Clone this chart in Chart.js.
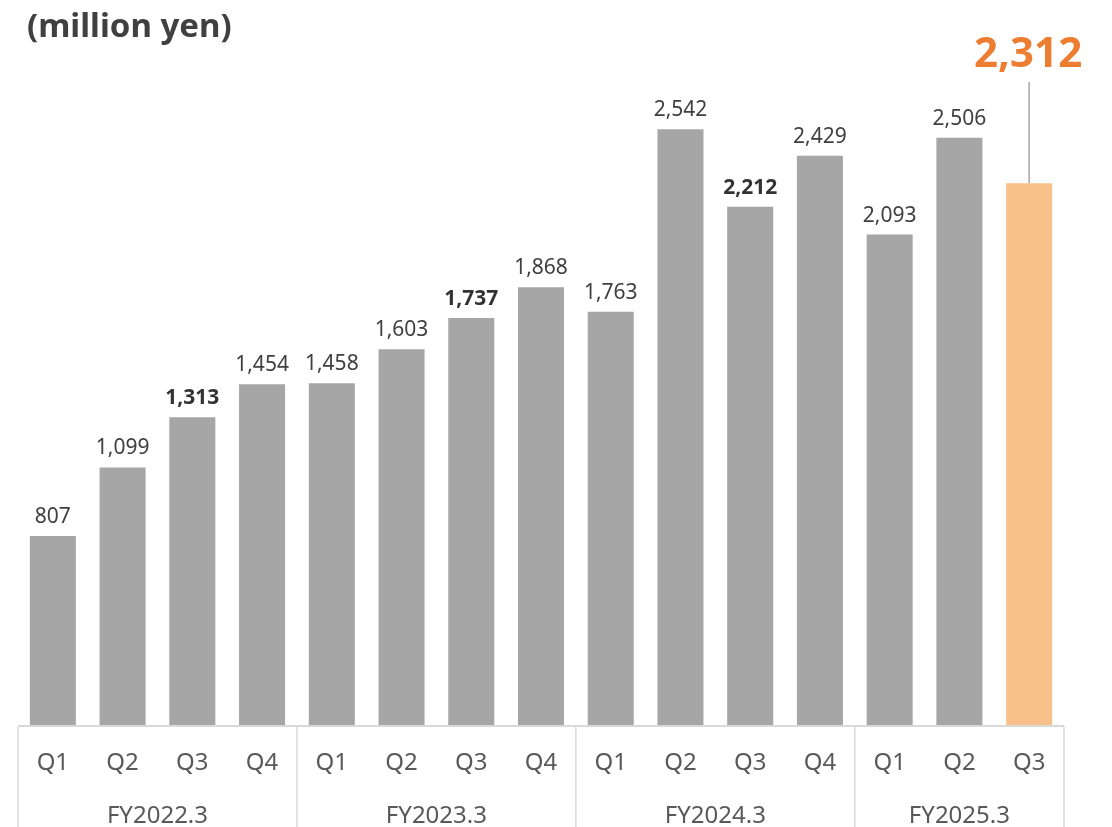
<!DOCTYPE html>
<html>
<head>
<meta charset="utf-8">
<script src="https://cdn.jsdelivr.net/npm/chart.js@4.4.1/dist/chart.umd.min.js"></script>
<style>
  body { margin: 0; background: #fff; }
  #wrap { position: relative; width: 1112px; height: 827px; }
  #title { position: absolute; left: 27px; top: 2px; font: bold 33px "Noto Sans", sans-serif; color: #404040; }
</style>
</head>
<body>
<div id="wrap">
  <canvas id="salesChart" width="1112" height="827"></canvas>
  <div id="title">(million yen)</div>
</div>
<script>
// Quarterly values (million yen)
const quarters = ['Q1', 'Q2', 'Q3', 'Q4', 'Q1', 'Q2', 'Q3', 'Q4', 'Q1', 'Q2', 'Q3', 'Q4', 'Q1', 'Q2', 'Q3'];
const years = ['FY2022.3', 'FY2023.3', 'FY2024.3', 'FY2025.3'];
const yearSizes = [4, 4, 4, 3];
const sales = [807, 1099, 1313, 1454, 1458, 1603, 1737, 1868, 1763, 2542, 2212, 2429, 2093, 2506, 2312];
const boldIdx = [2, 6, 10];
const yMax = 3000;

const fontFamily = '"Noto Sans", sans-serif';
const grey = '#A6A6A6';
const peach = '#F8C18C';
const orange = '#ED7D31';
const gridCol = '#D9D9D9';

const barColors = sales.map((v, i) => i === sales.length - 1 ? peach : grey);

// Value labels, highlight callout, and the two-level category axis
const labelsPlugin = {
    id: 'customLabels',
    afterDatasetsDraw(chart) {
        const ctx = chart.ctx;
        const meta = chart.getDatasetMeta(0);
        const xs = chart.scales.x;
        const area = chart.chartArea;
        const last = sales.length - 1;

        ctx.save();
        ctx.textAlign = 'center';
        ctx.textBaseline = 'alphabetic';
        meta.data.forEach((bar, i) => {
            if (i === last) return;
            const bold = boldIdx.includes(i);
            ctx.font = (bold ? 'bold ' : '') + '21px ' + fontFamily;
            ctx.fillStyle = bold ? '#333333' : '#404040';
            ctx.fillText(sales[i].toLocaleString('en-US'), bar.x, bar.y - 13);
        });

        // callout for latest quarter
        const lb = meta.data[last];
        ctx.strokeStyle = '#A6A6A6';
        ctx.lineWidth = 1.5;
        ctx.beginPath();
        ctx.moveTo(lb.x, 82);
        ctx.lineTo(lb.x, lb.y);
        ctx.stroke();
        ctx.font = 'bold 42px ' + fontFamily;
        ctx.fillStyle = orange;
        ctx.fillText(sales[last].toLocaleString('en-US'), lb.x - 1, 67);

        // axis line
        const bottom = area.bottom;
        ctx.strokeStyle = gridCol;
        ctx.lineWidth = 2;
        ctx.beginPath();
        ctx.moveTo(area.left, bottom + 1);
        ctx.lineTo(area.right, bottom + 1);
        ctx.stroke();

        // quarter labels
        ctx.font = '24px ' + fontFamily;
        ctx.fillStyle = '#595959';
        ctx.textBaseline = 'middle';
        quarters.forEach((q, i) => {
            ctx.fillText(q, xs.getPixelForValue(i), bottom + 38);
        });

        // year groups and dividers
        const half = (xs.getPixelForValue(1) - xs.getPixelForValue(0)) / 2;
        let start = 0;
        ctx.lineWidth = 1.5;
        years.forEach((y, g) => {
            const end = start + yearSizes[g] - 1;
            const x0 = xs.getPixelForValue(start) - half;
            const x1 = xs.getPixelForValue(end) + half;
            ctx.beginPath();
            ctx.moveTo(x0, bottom + 2);
            ctx.lineTo(x0, chart.height);
            ctx.stroke();
            if (g === years.length - 1) {
                ctx.beginPath();
                ctx.moveTo(x1, bottom + 2);
                ctx.lineTo(x1, chart.height);
                ctx.stroke();
            }
            ctx.fillText(y, (x0 + x1) / 2, bottom + 91);
            start = end + 1;
        });
        ctx.restore();
    }
};

const ctx = document.getElementById('salesChart').getContext('2d');
new Chart(ctx, {
    type: 'bar',
    data: {
        labels: quarters,
        datasets: [{
            data: sales,
            backgroundColor: barColors,
            borderWidth: 0,
            categoryPercentage: 1,
            barPercentage: 0.66
        }]
    },
    options: {
        responsive: false,
        animation: false,
        layout: { padding: { left: 18, right: 48, top: 22, bottom: 102 } },
        plugins: {
            legend: { display: false },
            tooltip: { enabled: false }
        },
        scales: {
            x: { display: false },
            y: { display: false, min: 0, max: yMax }
        }
    },
    plugins: [labelsPlugin]
});
</script>
</body>
</html>
